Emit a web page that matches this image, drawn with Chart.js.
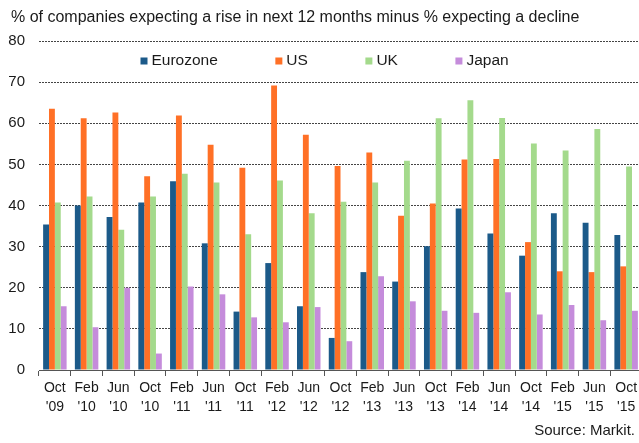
<!DOCTYPE html>
<html>
<head>
<meta charset="utf-8">
<script src="https://cdn.jsdelivr.net/npm/chart.js@4/dist/chart.umd.min.js"></script>
<style>
  html, body { margin: 0; padding: 0; background: #fff; overflow: hidden; }
  #wrap { position: relative; width: 652px; height: 443px; }
</style>
</head>
<body>
<div id="wrap"><canvas id="grafico" width="652" height="443"></canvas></div>
<script>
// DATI
const periodi = [
  ['Oct', "'09"], ['Feb', "'10"], ['Jun', "'10"], ['Oct', "'10"], ['Feb', "'11"],
  ['Jun', "'11"], ['Oct', "'11"], ['Feb', "'12"], ['Jun', "'12"], ['Oct', "'12"],
  ['Feb', "'13"], ['Jun', "'13"], ['Oct', "'13"], ['Feb', "'14"], ['Jun', "'14"],
  ['Oct', "'14"], ['Feb', "'15"], ['Jun', "'15"], ['Oct', "'15"]
];
const eurozone = [35.4, 40.0, 37.2, 40.7, 45.9, 30.8, 14.2, 26.0, 15.5, 7.8, 23.8, 21.5, 30.1, 39.3, 33.2, 27.8, 38.1, 35.8, 32.8];
const us       = [63.5, 61.2, 62.6, 47.1, 61.9, 54.8, 49.2, 69.2, 57.2, 49.6, 52.9, 37.5, 40.5, 51.2, 51.3, 31.1, 24.0, 23.8, 25.2];
const uk       = [40.7, 42.2, 34.1, 42.2, 47.7, 45.6, 33.0, 46.1, 38.1, 40.9, 45.6, 50.9, 61.2, 65.6, 61.3, 55.1, 53.4, 58.6, 49.5];
const japan    = [15.5, 10.4, 20.0, 4.0, 20.3, 18.4, 12.8, 11.6, 15.3, 7.0, 22.8, 16.7, 14.4, 13.9, 18.9, 13.5, 15.8, 12.1, 14.4];
const yMin = 0;
const yMax = 80;
const yStep = 10;

const titolo = '% of companies expecting a rise in next 12 months minus % expecting a decline';
const fonte = 'Source: Markit.';

const FONT = '"Liberation Sans", Arial, sans-serif';
const TESTO = '#1a1a1a';

// titolo, fonte e legenda disegnati a mano
const testiPlugin = {
  id: 'testi',
  afterDraw(chart) {
    const ctx = chart.ctx;
    ctx.save();
    ctx.fillStyle = TESTO;
    ctx.textBaseline = 'middle';
    ctx.font = '16px ' + FONT;
    ctx.textAlign = 'left';
    ctx.fillText(titolo, 11, 18);

    ctx.font = '15px ' + FONT;
    ctx.textAlign = 'right';
    ctx.fillText(fonte, 635, 431);

    // legenda dentro l'area del grafico
    ctx.font = '15.5px ' + FONT;
    ctx.textAlign = 'left';
    let x = 140.5;
    const y = 61;
    chart.data.datasets.forEach(ds => {
      ctx.fillStyle = ds.backgroundColor;
      ctx.fillRect(x, y - 3.5, 7, 7);
      ctx.fillStyle = TESTO;
      ctx.fillText(ds.label, x + 11, y);
      x += 11 + ctx.measureText(ds.label).width + 57.5;
    });
    ctx.restore();
  }
};

const serie = (label, data, colore) => ({
  label: label,
  data: data,
  backgroundColor: colore,
  borderWidth: 0,
  categoryPercentage: 0.74,
  barPercentage: 1.0
});

new Chart(document.getElementById('grafico'), {
  type: 'bar',
  data: {
    labels: periodi,
    datasets: [
      serie('Eurozone', eurozone, '#1c5a89'),
      serie('US', us, '#ff7026'),
      serie('UK', uk, '#a4da8c'),
      serie('Japan', japan, '#c58cdb')
    ]
  },
  options: {
    responsive: false,
    animation: false,
    layout: { padding: { top: 41, right: 10, bottom: 0, left: 0 } },
    plugins: {
      legend: { display: false },
      tooltip: { enabled: false }
    },
    scales: {
      x: {
        afterFit: s => { s.height = 73; },
        grid: {
          offset: true,
          drawOnChartArea: false,
          tickLength: 6,
          color: '#555'
        },
        border: { display: true, color: '#555', width: 1 },
        ticks: {
          color: TESTO,
          font: { family: FONT, size: 14, lineHeight: 1.4 },
          padding: 2,
          maxRotation: 0,
          autoSkip: false
        }
      },
      y: {
        min: yMin,
        max: yMax,
        afterFit: s => { s.width = 39; },
        grid: {
          drawTicks: false,
          color: '#444',
          lineWidth: 1
        },
        border: { display: false, dash: [2, 1] },
        ticks: {
          stepSize: yStep,
          color: TESTO,
          font: { family: FONT, size: 15 },
          padding: 14
        }
      }
    }
  },
  plugins: [testiPlugin]
});
</script>
</body>
</html>
